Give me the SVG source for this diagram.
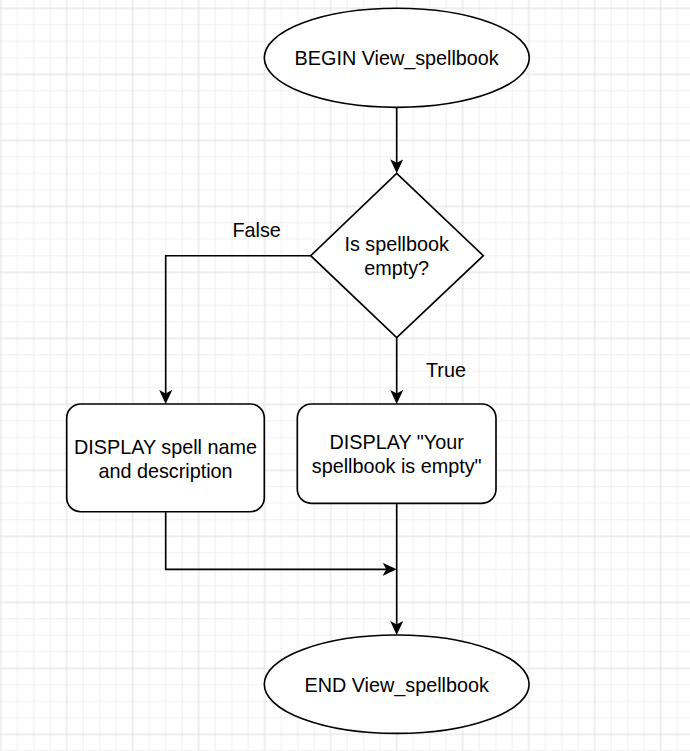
<svg xmlns="http://www.w3.org/2000/svg" width="690" height="751" viewBox="0 0 690 751">
<style>
.shape{fill:#ffffff;stroke:#000000;stroke-width:1.65}
.edge{fill:none;stroke:#000000;stroke-width:1.65}
.lbl{font-family:"Liberation Sans",Arial,Helvetica,sans-serif;font-size:19.8px;fill:#000000;text-anchor:middle}
</style>
<defs>
<pattern id="grid" x="-0.33" y="7.3" width="66" height="66" patternUnits="userSpaceOnUse">
<path d="M17.5,0V66M34,0V66M50.5,0V66M0,17.5H66M0,34H66M0,50.5H66" stroke="#f0f0f0" stroke-width="1" fill="none"/>
<path d="M1,0V66M0,1H66" stroke="#dedede" stroke-width="1" fill="none"/>
</pattern>
<marker id="arrow" markerUnits="userSpaceOnUse" viewBox="0 0 14 13" markerWidth="14" markerHeight="13" refX="11" refY="6.5" orient="auto">
<path d="M14,6.5 L0,0 L3.5,6.5 L0,13 Z" fill="#000000" stroke="none"/>
</marker>
</defs>
<rect x="0" y="0" width="690" height="751" fill="#ffffff"/>
<rect x="0" y="0" width="690" height="751" fill="url(#grid)"/>

<g id="connectors">
<path class="edge" d="M396.7,107.3 V170.3" marker-end="url(#arrow)"/>
<path class="edge" d="M310.7,255.7 H165.7 V401" marker-end="url(#arrow)"/>
<path class="edge" d="M396.7,337.7 V401" marker-end="url(#arrow)"/>
<path class="edge" d="M165.7,511.7 V569.3 H393.7" marker-end="url(#arrow)"/>
<path class="edge" d="M396.7,503.3 V632" marker-end="url(#arrow)"/>
<text class="lbl" x="256.7" y="237.3">False</text>
<text class="lbl" x="446" y="377.3">True</text>
</g>

<g id="begin">
<ellipse class="shape" cx="396.8" cy="57.8" rx="132.5" ry="49.5"/>
<text class="lbl" x="396.7" y="64.5">BEGIN View_spellbook</text>
</g>

<g id="decision">
<polygon class="shape" points="396.7,173.3 483.3,255.7 396.7,337.7 310.7,255.7"/>
<text class="lbl" x="396.7" y="250.7">Is spellbook</text>
<text class="lbl" x="396.7" y="275">empty?</text>
</g>

<g id="display-spells">
<rect class="shape" x="66.7" y="404" width="197.6" height="107.7" rx="14" ry="14"/>
<text class="lbl" x="165.5" y="454">DISPLAY spell name</text>
<text class="lbl" x="165.5" y="478.3">and description</text>
</g>

<g id="display-empty">
<rect class="shape" x="297.3" y="404" width="198.7" height="99.3" rx="14" ry="14"/>
<text class="lbl" x="396.7" y="449.3">DISPLAY "Your</text>
<text class="lbl" x="396.7" y="473.3">spellbook is empty"</text>
</g>

<g id="end">
<ellipse class="shape" cx="396.7" cy="684.2" rx="132.4" ry="49.2"/>
<text class="lbl" x="396.7" y="692">END View_spellbook</text>
</g>
</svg>
